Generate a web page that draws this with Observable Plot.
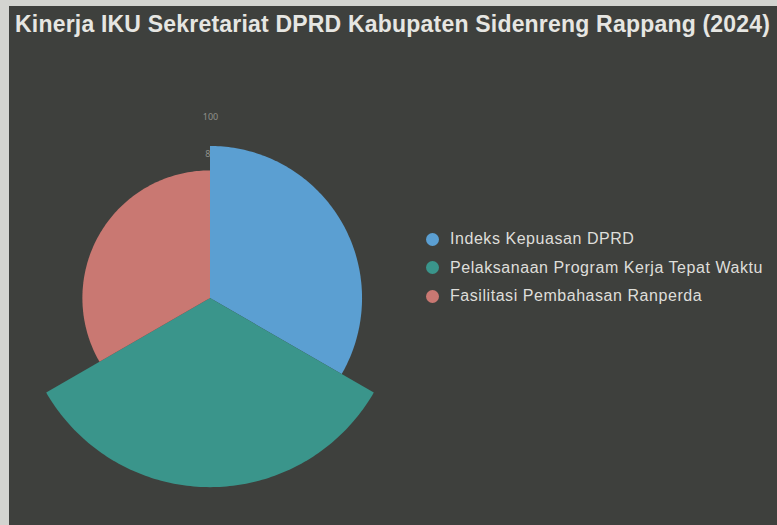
<!DOCTYPE html>
<html><head><meta charset="utf-8">
<script src="https://cdn.jsdelivr.net/npm/d3@7"></script>
<script src="https://cdn.jsdelivr.net/npm/@observablehq/plot@0.6"></script>
<style>
html,body{margin:0;padding:0;width:777px;height:525px;overflow:hidden;background:#d3d4d0;font-family:"Liberation Sans",Arial,sans-serif}
#panel{position:absolute;left:9px;top:6px;width:800px;height:540px;background:#3e403d}
#title{position:absolute;left:15px;top:11px;font-weight:bold;font-size:23px;letter-spacing:0.2px;color:#e6e6e2;white-space:nowrap}
#chart{position:absolute;left:0;top:50px}
#legend{position:absolute;left:426px;top:225px;color:#dededa;font-size:16px;letter-spacing:0.55px}
.item{display:flex;align-items:center;height:28.5px}
.sw{width:13px;height:13px;border-radius:50%;margin-right:11px;flex:none}
</style></head><body>
<div id="panel"></div>
<div id="title"></div>
<div id="chart"></div>
<div id="legend"></div>
<script>
const titleText = "Kinerja IKU Sekretariat DPRD Kabupaten Sidenreng Rappang (2024)";
const categories = ["Indeks Kepuasan DPRD", "Pelaksanaan Program Kerja Tepat Waktu", "Fasilitasi Pembahasan Ranperda"];
const values = [84, 104.5, 70.5];
const colors = ["#5b9fd2", "#3a958b", "#c97872"];
const tickValues = [0, 20, 40, 60, 80, 100];

document.getElementById("title").textContent = titleText;

// layout
const W = 420, H = 475, cx = 210, cy = 248, pxPerUnit = 1.81;

// sector outlines derived from the data (polar area: equal angles, radius = value)
const step = 360 / categories.length;
const pts = [];
categories.forEach((c, i) => {
  for (let a = i * step; a <= (i + 1) * step + 1e-9; a += 1) {
    const t = a * Math.PI / 180;
    pts.push({cat: c, x: values[i] * Math.sin(t), y: values[i] * Math.cos(t), x0: 0, y0: 0});
  }
});

const plot = Plot.plot({
  width: W, height: H,
  margin: 0,
  x: {domain: [-cx / pxPerUnit, (W - cx) / pxPerUnit], axis: null},
  y: {domain: [-(H - cy) / pxPerUnit, cy / pxPerUnit], axis: null},
  color: {domain: categories, range: colors},
  style: {background: "transparent", overflow: "visible"},
  marks: [
    Plot.text(tickValues, {x: () => 0, y: d => d, text: d => String(d), fill: "#8e908b", fontSize: 9}),
    Plot.area(pts, {x1: "x", y1: "y", x2: "x0", y2: "y0", z: "cat", fill: "cat", fillOpacity: 1})
  ]
});
document.getElementById("chart").appendChild(plot);

const leg = document.getElementById("legend");
categories.forEach((c, i) => {
  const row = document.createElement("div");
  row.className = "item";
  const sw = document.createElement("span");
  sw.className = "sw";
  sw.style.background = colors[i];
  const tx = document.createElement("span");
  tx.textContent = c;
  row.appendChild(sw); row.appendChild(tx);
  leg.appendChild(row);
});
</script>
</body></html>
